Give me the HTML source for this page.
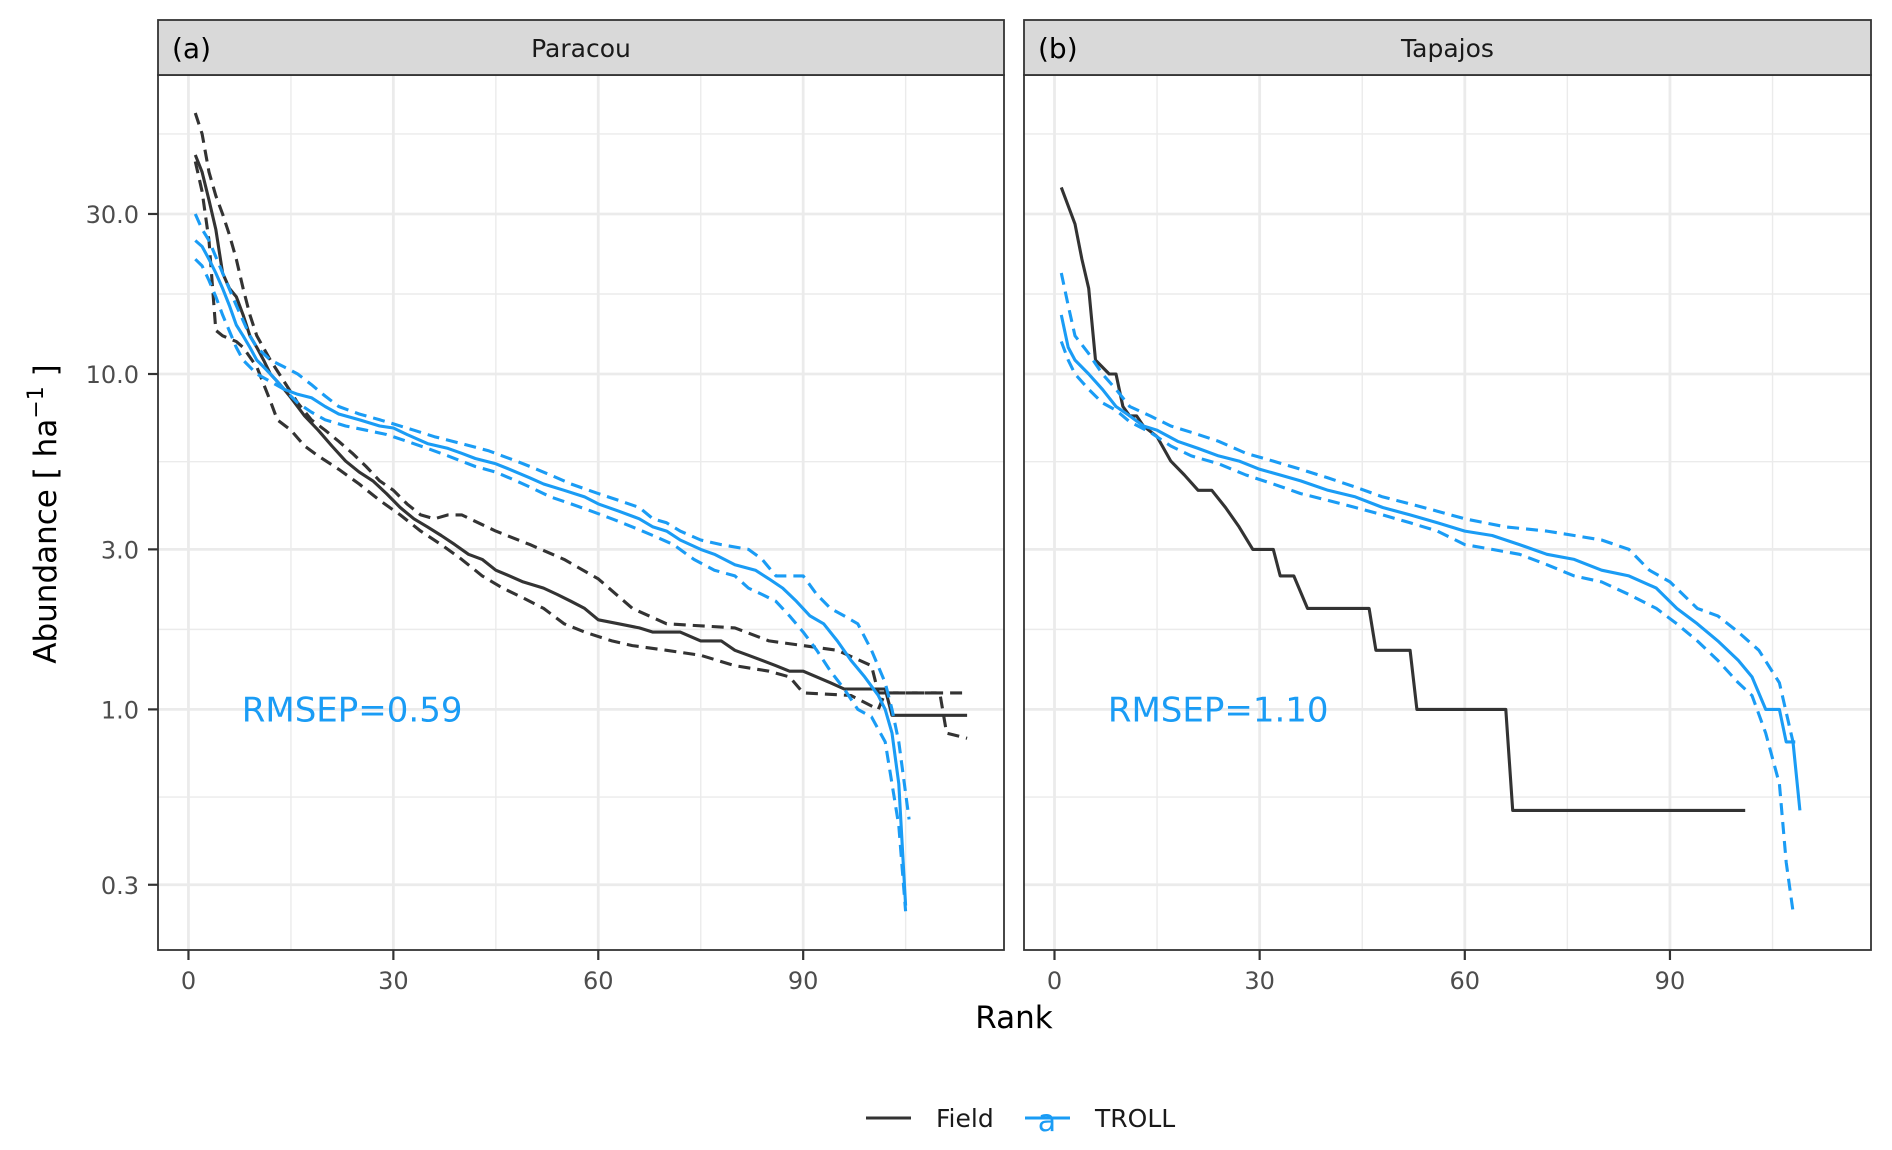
<!DOCTYPE html>
<html><head><meta charset="utf-8"><style>
html,body{margin:0;padding:0;background:#fff;}
svg{display:block;font-family:"DejaVu Sans","Liberation Sans",sans-serif;}
</style></head><body>
<svg id="chart" width="1892" height="1150" viewBox="0 0 1892 1150">
<g id="root"></g>
</svg>
<script>
// ---- data ----
const xTicks = [0, 30, 60, 90];
const xMinor = [15, 45, 75, 105];
const yTicks = [0.3, 1, 3, 10, 30];
const yTickLabels = ["0.3", "1.0", "3.0", "10.0", "30.0"];
const panelTitles = ["Paracou", "Tapajos"];
const panelTags = ["(a)", "(b)"];
const rmsepLabels = ["RMSEP=0.59", "RMSEP=1.10"];

const parFieldRank = [1,2,3,4,5,6,7,8,9,10,11,12,13,14,15,17,19,21,23,25,27,29,31,33,35,37,39,41,43,45,47,49,52,54,56,58,60,63,66,68,72,75,78,80,82,84,86,88,90,94,96,102,103,114];
const parFieldVal = [45,40,33,27,20,18,17,15,13,12,11,10,9.5,9,8.5,7.5,6.8,6.1,5.5,5.1,4.8,4.4,4.0,3.7,3.5,3.3,3.1,2.9,2.8,2.6,2.5,2.4,2.3,2.2,2.1,2.0,1.85,1.8,1.75,1.7,1.7,1.6,1.6,1.5,1.45,1.4,1.35,1.3,1.3,1.2,1.15,1.15,0.96,0.96];
const parFieldHiRank = [1,2,3,4,5,6,7,8,9,10,12,14,16,18,20,22,24,26,28,30,32,34,36,38,40,45,50,55,60,65,70,80,85,90,95,100,101,114];
const parFieldHiVal = [60,52,40,34,30,26,22,18,15,13,11,9.5,8.2,7.3,6.8,6.3,5.8,5.3,4.8,4.5,4.1,3.8,3.7,3.8,3.8,3.4,3.1,2.8,2.45,2.0,1.8,1.75,1.6,1.55,1.5,1.35,1.12,1.12];
const parFieldLoRank = [1,2,3,4,5,7,8,10,12,13,15,17,19,22,25,28,31,34,37,40,43,46,49,52,55,58,62,65,70,75,80,85,88,90,97,101,102,110,111,114];
const parFieldLoVal = [43,35,25,13.5,13,12.5,12,10.5,8.3,7.3,6.8,6.1,5.7,5.2,4.7,4.2,3.8,3.4,3.1,2.8,2.5,2.3,2.15,2.0,1.8,1.7,1.6,1.55,1.5,1.45,1.35,1.3,1.25,1.12,1.1,1.0,1.12,1.12,0.85,0.82];

const parTrollRank = [1,2,3,4,5,6,7,8,9,10,11,12,13,14,16,18,20,22,25,28,30,32,35,38,40,42,45,47,50,52,55,58,60,63,66,68,70,72,75,77,80,83,85,87,89,91,93,95,97,99,101,102,103,104,105];
const parTrollVal = [25,24,22,20,18,16,14,13,12,11,10.5,10,9.5,9,8.7,8.5,8.0,7.6,7.3,7.0,6.9,6.6,6.2,6.0,5.8,5.6,5.4,5.2,4.9,4.7,4.5,4.3,4.1,3.9,3.7,3.5,3.4,3.2,3.0,2.9,2.7,2.6,2.45,2.3,2.1,1.9,1.8,1.6,1.4,1.25,1.1,1.0,0.85,0.6,0.26];
const parTrollHiRank = [1,2,3,5,7,9,10,12,14,16,18,20,22,25,28,30,33,36,40,44,48,50,53,56,60,63,66,68,70,72,75,78,82,84,86,90,92,94,96,98,100,102,103,104,105.5];
const parTrollHiVal = [30,27,25,20,16,13,12,11,10.5,10,9.3,8.6,8.0,7.6,7.3,7.1,6.8,6.5,6.2,5.9,5.5,5.3,5.0,4.7,4.4,4.2,4.0,3.7,3.6,3.4,3.2,3.1,3.0,2.8,2.5,2.5,2.2,2.0,1.9,1.8,1.5,1.2,1.0,0.8,0.47];
const parTrollLoRank = [1,2,3,4,5,7,8,10,12,14,16,18,20,23,26,29,32,35,38,42,45,48,50,53,56,59,62,65,68,71,74,77,80,82,84,86,88,90,92,94,96,98,100,102,103,104,105];
const parTrollLoVal = [22,21,19,17,15,12,11,10,9.5,9,8.2,7.7,7.3,7,6.8,6.6,6.3,6.0,5.7,5.3,5.1,4.8,4.6,4.3,4.1,3.9,3.7,3.5,3.3,3.1,2.8,2.6,2.5,2.3,2.2,2.1,1.9,1.7,1.5,1.3,1.15,1.0,0.95,0.8,0.6,0.45,0.25];

const tapFieldRank = [1,3,4,5,6,8,9,10,11,12,13,15,17,19,21,23,25,27,29,32,33,35,37,46,47,52,53,66,67,101];
const tapFieldVal = [36,28,22,18,11,10,10,8,7.5,7.5,7,6.5,5.5,5,4.5,4.5,4,3.5,3,3,2.5,2.5,2,2,1.5,1.5,1,1,0.5,0.5];
const tapTrollRank = [1,2,3,5,7,9,11,13,15,18,21,24,27,30,33,36,40,44,48,52,56,60,64,68,72,76,80,84,88,91,94,97,100,102,104,106,107,108,109];
const tapTrollVal = [15,12,11,10,9,8,7.5,7.0,6.8,6.3,6.0,5.7,5.5,5.2,5.0,4.8,4.5,4.3,4.0,3.8,3.6,3.4,3.3,3.1,2.9,2.8,2.6,2.5,2.3,2.0,1.8,1.6,1.4,1.25,1.0,1.0,0.8,0.8,0.5];
const tapTrollHiRank = [1,2,3,5,7,9,11,14,17,20,24,28,32,36,40,44,48,52,56,60,66,72,76,80,84,87,90,94,97,100,103,106,108,109];
const tapTrollHiVal = [20,16,13,11.5,10,9,8,7.5,7.0,6.7,6.3,5.8,5.5,5.2,4.9,4.6,4.3,4.1,3.9,3.7,3.5,3.4,3.3,3.2,3.0,2.6,2.4,2.0,1.9,1.7,1.5,1.2,0.8,0.8];
const tapTrollLoRank = [1,2,3,5,7,9,11,14,17,20,24,28,32,36,40,44,48,52,56,60,64,68,72,76,80,84,88,91,94,97,100,102,104,106,107,108];
const tapTrollLoVal = [12.5,11,10,9,8.2,7.8,7.2,6.7,6.1,5.7,5.4,5.0,4.7,4.4,4.2,4.0,3.8,3.6,3.4,3.1,3.0,2.9,2.7,2.5,2.4,2.2,2.0,1.8,1.6,1.4,1.2,1.1,0.85,0.6,0.35,0.25];

// ---- layout ----
const NS = "http://www.w3.org/2000/svg";
const root = document.getElementById('root');
const panels = [{x0:158,x1:1004},{x0:1024,x1:1871}];
const PT = 75, PB = 950, STRIP_T = 20;
const XMIN = -4.46, XMAX = 119.4;
const LOGMAX = 1.8915, LOGMIN = -0.7174;
const FIELD = "#333333", TROLL = "#1a9cf5";

function mk(tag, attrs, parent){const e=document.createElementNS(NS,tag);for(const k in attrs)e.setAttribute(k,attrs[k]);(parent||root).appendChild(e);return e;}
function xs(p,v){return p.x0 + (v - XMIN)/(XMAX - XMIN)*(p.x1 - p.x0);}
function ys(v){return PT + (LOGMAX - Math.log10(v))/(LOGMAX - LOGMIN)*(PB - PT);}

const yMinorLogs = [];
const yl = yTicks.map(v=>Math.log10(v));
yMinorLogs.push(yl[0]-(yl[1]-yl[0])/2);
for(let i=0;i<yl.length-1;i++) yMinorLogs.push((yl[i]+yl[i+1])/2);
yMinorLogs.push(yl[yl.length-1]+(yl[yl.length-1]-yl[yl.length-2])/2);

function line(p, rank, val, color, dashed, name){
  const pts = rank.map((r,i)=>xs(p,r).toFixed(1)+","+ys(val[i]).toFixed(1)).join(" ");
  const e = mk('polyline',{points:pts,fill:"none",stroke:color,"stroke-width":3.1,"stroke-linejoin":"round"});
  if(dashed) e.setAttribute('stroke-dasharray','12,7');
  
  
}

const series = [
  [[parFieldRank,parFieldVal,FIELD,false,'paracou-field-line'],[parFieldHiRank,parFieldHiVal,FIELD,true,'paracou-field-upper-ci'],[parFieldLoRank,parFieldLoVal,FIELD,true,'paracou-field-lower-ci'],
   [parTrollRank,parTrollVal,TROLL,false,'paracou-troll-line'],[parTrollHiRank,parTrollHiVal,TROLL,true,'paracou-troll-upper-ci'],[parTrollLoRank,parTrollLoVal,TROLL,true,'paracou-troll-lower-ci']],
  [[tapFieldRank,tapFieldVal,FIELD,false,'tapajos-field-line'],
   [tapTrollRank,tapTrollVal,TROLL,false,'tapajos-troll-line'],[tapTrollHiRank,tapTrollHiVal,TROLL,true,'tapajos-troll-upper-ci'],[tapTrollLoRank,tapTrollLoVal,TROLL,true,'tapajos-troll-lower-ci']]
];

panels.forEach((p,pi)=>{
  const g = mk('g',{});
  
  
  mk('rect',{x:p.x0,y:PT,width:p.x1-p.x0,height:PB-PT,fill:"#fff"},g);
  yMinorLogs.forEach(l=>{const y=ys(Math.pow(10,l)); if(y>PT&&y<PB) mk('line',{x1:p.x0,x2:p.x1,y1:y,y2:y,stroke:"#ebebeb","stroke-width":1.4},g);});
  xMinor.forEach(v=>{const x=xs(p,v); mk('line',{x1:x,x2:x,y1:PT,y2:PB,stroke:"#ebebeb","stroke-width":1.4},g);});
  yTicks.forEach(v=>{const y=ys(v); mk('line',{x1:p.x0,x2:p.x1,y1:y,y2:y,stroke:"#ebebeb","stroke-width":2.8},g);});
  xTicks.forEach(v=>{const x=xs(p,v); mk('line',{x1:x,x2:x,y1:PT,y2:PB,stroke:"#ebebeb","stroke-width":2.8},g);});
  series[pi].forEach(s=>line(p,s[0],s[1],s[2],s[3],s[4]));
  const rt = mk('text',{x:xs(p,7.8),y:ys(1)+12,fill:TROLL,"font-size":34},g);
  rt.textContent = rmsepLabels[pi];
  
  
  mk('rect',{x:p.x0,y:PT,width:p.x1-p.x0,height:PB-PT,fill:"none",stroke:"#333","stroke-width":1.8},g);
  const st = mk('rect',{x:p.x0,y:STRIP_T,width:p.x1-p.x0,height:PT-STRIP_T,fill:"#d9d9d9",stroke:"#333","stroke-width":1.8},g);
  
  
  const tt = mk('text',{x:(p.x0+p.x1)/2,y:57,"text-anchor":"middle","font-size":25,fill:"#1a1a1a"},g);
  tt.textContent = panelTitles[pi];
  
  
  const tg = mk('text',{x:p.x0+14,y:58,"font-size":28,fill:"#000"},g);
  tg.textContent = panelTags[pi];
  
  
  xTicks.forEach(v=>{const x=xs(p,v);
    mk('line',{x1:x,x2:x,y1:PB,y2:PB+10,stroke:"#333","stroke-width":2.2},g);
    const t=mk('text',{x:x,y:PB+39,"text-anchor":"middle","font-size":24,fill:"#4d4d4d"},g);
    t.textContent=String(v);
    
    
  });
});
yTicks.forEach((v,i)=>{const y=ys(v);
  mk('line',{x1:148,x2:158,y1:y,y2:y,stroke:"#333","stroke-width":2.2});
  const t=mk('text',{x:139,y:y+9,"text-anchor":"end","font-size":24,fill:"#4d4d4d"});
  t.textContent=yTickLabels[i];
  
  
});
const xt = mk('text',{x:1014,y:1028,"text-anchor":"middle","font-size":31,fill:"#000"});
xt.textContent="Rank";


const ytt = mk('text',{x:0,y:0,"text-anchor":"middle","font-size":31,fill:"#000",transform:"translate(56,514) rotate(-90)"});
ytt.innerHTML='Abundance [ ha<tspan dy="-13" font-size="22">−1</tspan><tspan dy="13"> ]</tspan>';


const lg = mk('g',{});


mk('line',{x1:866,x2:911,y1:1118,y2:1118,stroke:FIELD,"stroke-width":3.1},lg);
const l1=mk('text',{x:936,y:1127,"font-size":25,fill:"#1a1a1a"},lg); l1.textContent="Field";


mk('line',{x1:1025,x2:1070,y1:1118,y2:1118,stroke:TROLL,"stroke-width":3.1},lg);
const la=mk('text',{x:1047,y:1131,"text-anchor":"middle","font-size":30,fill:TROLL},lg); la.textContent="a";
const l2=mk('text',{x:1095,y:1127,"font-size":25,fill:"#1a1a1a"},lg); l2.textContent="TROLL";


</script>
</body></html>
